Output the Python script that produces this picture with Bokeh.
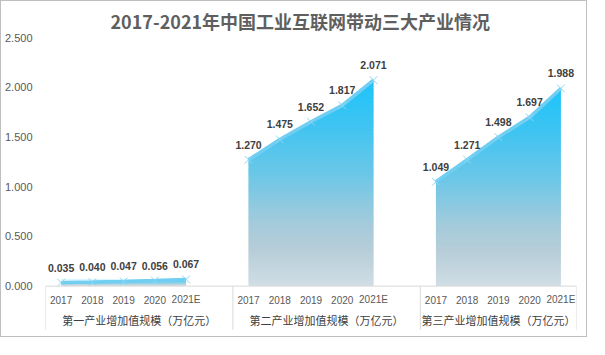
import numpy as np
from bokeh.plotting import figure
from bokeh.models import Range1d, FixedTicker, NumeralTickFormatter, ColumnDataSource
from bokeh.core.properties import value
from bokeh.embed import file_html
from bokeh.resources import INLINE

# ---------------- data ----------------
title_text = "2017-2021年中国工业互联网带动三大产业情况"
years = ["2017", "2018", "2019", "2020", "2021E"]
groups = ["第一产业增加值规模（万亿元）", "第二产业增加值规模（万亿元）", "第三产业增加值规模（万亿元）"]
primary = [0.035, 0.040, 0.047, 0.056, 0.067]
secondary = [1.270, 1.475, 1.652, 1.817, 2.071]
tertiary = [1.049, 1.271, 1.498, 1.697, 1.988]
y_ticks = [0.0, 0.5, 1.0, 1.5, 2.0, 2.5]

series = [primary, secondary, tertiary]

# ---------------- layout constants ----------------
SLOTS_PER_GROUP = 6          # 5 categories + 1 blank slot between groups
CJK = "Noto Sans CJK SC"
LAT = "Liberation Sans"

# gradient stops (fraction of the series height -> colour)
stop_f = [0.0, 0.18, 0.30, 0.55, 0.80, 1.0]
stop_rgb = np.array([
    [208, 222, 229],
    [182, 205, 216],
    [165, 203, 219],
    [106, 199, 232],
    [60, 196, 242],
    [28, 196, 250],
])


def grad_color(f):
    r, g, b = (int(round(np.interp(f, stop_f, stop_rgb[:, k]))) for k in range(3))
    return "#%02x%02x%02x" % (r, g, b)


n_slots = SLOTS_PER_GROUP * (len(groups) - 1) + len(years)
x_lo, x_hi = -0.5, n_slots - 0.5

p = figure(width=587, height=337,
           x_range=Range1d(x_lo, x_hi), y_range=Range1d(-0.527, 2.5),
           output_backend="svg", toolbar_location=None,
           x_axis_location=None,
           min_border_left=43, min_border_right=12, min_border_top=35, min_border_bottom=0,
           title=title_text)
p.styles = {"border": "1px solid #BFBFBF"}
p.outline_line_color = None
p.xgrid.visible = False
p.ygrid.visible = False
p.background_fill_color = "white"
p.border_fill_color = "white"

p.title.text_font = CJK
p.title.text_font_size = "18px"
p.title.text_font_style = "bold"
p.title.text_color = "#5f5f5f"
p.title.align = "left"
p.title.offset = 65
p.title.standoff = 8

ax = p.yaxis[0]
ax.ticker = FixedTicker(ticks=y_ticks, minor_ticks=[])
ax.formatter = NumeralTickFormatter(format="0.000")
ax.axis_line_color = None
ax.major_tick_line_color = None
ax.minor_tick_line_color = None
ax.major_tick_out = 0
ax.major_tick_in = 0
ax.major_label_standoff = 13
ax.major_label_text_font = LAT
ax.major_label_text_font_size = "11px"
ax.major_label_text_color = "#595959"

N = 90
for g, vals in enumerate(series):
    vals = np.asarray(vals, dtype=float)
    xs = np.arange(len(vals)) + SLOTS_PER_GROUP * g
    top = vals.max()
    step = top / N
    lo = np.arange(N) * step
    hi = lo + step * 1.6
    cols = [grad_color((i + 0.5) / N) for i in range(N)]
    src = ColumnDataSource(dict(left=np.full(N, xs[0]), right=np.full(N, xs[-1]),
                                bottom=lo, top=hi, color=cols))
    p.quad(left="left", right="right", bottom="bottom", top="top", source=src,
           fill_color="color", line_color=None)
    # white mask above the series line
    pad = 0.06
    mx = list(xs) + [xs[-1] + pad, xs[-1] + pad, xs[0] - pad, xs[0] - pad]
    my = list(vals) + [vals[-1], top + step * 3, top + step * 3, vals[0]]
    p.patch(mx, my, fill_color="white", line_color=None)
    p.line(xs, vals, line_color="#6FCEF2", line_width=3.5)
    p.scatter(xs, vals, marker="x", size=11, line_color="#8AD6F5", line_width=1)
    p.text(xs, vals, text=["%.3f" % v for v in vals], text_align="center",
           text_baseline="middle", y_offset=-15, text_font=value(LAT),
           text_font_size="10.5px", text_font_style="bold", text_color="#404040")
    # category labels
    p.text(xs, np.zeros(len(xs)), text=years, text_align="center", text_baseline="middle",
           y_offset=13.5, text_font=value(LAT), text_font_size="10px", text_color="#595959")

# category axis line and group separators
p.segment(x0=[x_lo], y0=[0], x1=[x_hi], y1=[0], line_color="#D9D9D9", line_width=1)
sep_x = [x_lo] + [SLOTS_PER_GROUP * g - 0.5 for g in range(1, len(groups))] + [x_hi]
p.segment(x0=sep_x, y0=[0] * len(sep_x), x1=sep_x, y1=[-0.44] * len(sep_x),
          line_color="#D9D9D9", line_width=1)
group_cx = [(sep_x[i] + sep_x[i + 1]) / 2 for i in range(len(groups))]
p.text(group_cx, [0] * len(groups), text=groups, text_align="center", text_baseline="middle",
       y_offset=33.5, text_font=value(CJK), text_font_size="11px", text_color="#404040")

open("out.html", "w").write(file_html(p, INLINE))
